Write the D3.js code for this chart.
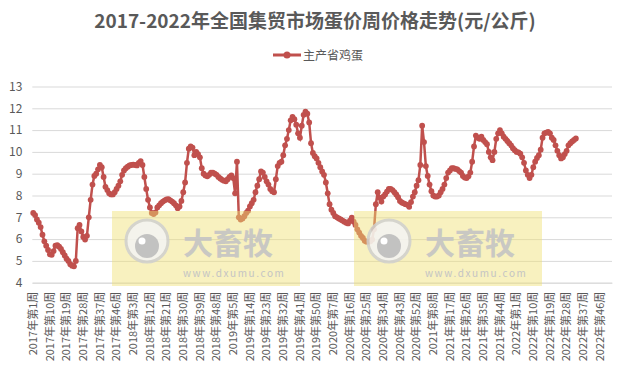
<!DOCTYPE html>
<html>
<head>
<meta charset="utf-8">
<script src="https://cdn.jsdelivr.net/npm/d3@7"></script>
<style>
body { margin: 0; background: #fff; }
text { font-family: "Noto Sans CJK SC", "Noto Sans", sans-serif; fill: #595959; }
</style>
</head>
<body>
<script>
var width = 630, height = 375;

var years = [2017, 2018, 2019, 2020, 2021, 2022];
var weeksPerYear = [52, 52, 52, 53, 52, 52];

// 主产省鸡蛋 weekly price, 元/公斤
var eggs2017 = [7.20,7.10,6.90,6.75,6.55,6.20,5.90,5.70,5.50,5.30,
                5.28,5.45,5.70,5.72,5.65,5.55,5.40,5.25,5.10,5.00,
                4.85,4.78,4.75,5.00,6.50,6.65,6.35,6.10,5.98,6.15,
                7.00,7.80,8.50,8.90,9.00,9.20,9.40,9.30,8.85,8.40,
                8.25,8.10,8.05,8.05,8.15,8.30,8.45,8.65,8.95,9.15,
                9.25,9.32];
var eggs2018 = [9.38,9.40,9.42,9.40,9.38,9.50,9.58,9.40,8.85,8.30,
                7.80,7.45,7.20,7.15,7.22,7.45,7.55,7.65,7.72,7.78,
                7.82,7.83,7.78,7.72,7.65,7.55,7.42,7.50,7.75,8.15,
                8.60,9.50,10.15,10.25,10.20,9.85,10.00,9.90,9.75,9.25,
                9.00,8.92,8.88,8.95,9.05,9.05,9.00,8.95,8.85,8.78,
                8.72,8.68];
var eggs2019 = [8.65,8.75,8.85,8.92,8.80,8.10,9.55,7.00,6.90,6.95,
                7.05,7.20,7.30,7.50,7.65,7.80,8.15,8.45,8.75,9.10,
                9.05,8.85,8.65,8.50,8.30,8.20,8.15,8.75,9.35,9.50,
                9.55,9.85,10.30,10.60,11.00,11.45,11.60,11.50,11.25,10.85,
                10.65,11.20,11.70,11.85,11.75,11.35,10.40,9.95,9.80,9.70,
                9.50,9.30];
var eggs2020 = [9.10,8.95,8.60,8.10,7.60,7.35,7.20,7.05,7.00,6.95,
                6.90,6.85,6.80,6.75,6.72,6.85,6.98,6.80,6.65,6.45,
                6.30,6.15,6.05,5.92,5.88,5.88,5.90,5.98,6.45,7.60,
                8.15,7.90,7.72,7.95,8.05,8.18,8.30,8.30,8.25,8.15,
                8.05,7.92,7.75,7.68,7.64,7.60,7.57,7.48,7.70,7.95,
                8.15,8.45,8.70];
var eggs2021 = [9.40,11.20,10.45,9.35,8.90,8.50,8.20,8.00,7.95,7.95,
                8.00,8.15,8.30,8.50,8.80,9.05,9.15,9.25,9.25,9.22,
                9.20,9.12,9.05,8.90,8.82,8.80,8.88,9.05,9.55,10.25,
                10.75,10.65,10.60,10.70,10.55,10.45,10.35,10.00,9.75,9.62,
                10.00,10.60,10.85,11.00,10.85,10.70,10.60,10.50,10.40,10.30,
                10.17,10.08];
var eggs2022 = [10.00,9.98,9.92,9.75,9.50,9.15,8.95,8.80,8.95,9.30,
                9.55,9.72,9.85,10.10,10.65,10.85,10.88,10.92,10.85,10.65,
                10.55,10.30,10.05,9.85,9.70,9.75,9.90,10.05,10.30,10.40,
                10.48,10.55,10.62];

var yTicks = [4, 5, 6, 7, 8, 9, 10, 11, 12, 13];
var seriesName = "主产省鸡蛋";
var title = "2017-2022年全国集贸市场蛋价周价格走势(元/公斤)";

var categories = [];
years.forEach(function(yr, k) {
    for (var w = 1; w <= weeksPerYear[k]; w++) categories.push(yr + "年第" + w + "周");
});
var prices = eggs2017.concat(eggs2018, eggs2019, eggs2020, eggs2021, eggs2022);
var tickLabels = categories.filter(function(d, i) { return i % 9 == 0; });

var svg = d3.select("body")
            .append("svg")
            .attr("width", width)
            .attr("height", height);

var x = d3.scaleBand()
          .domain(categories)
          .range([32.3, 612]);
var y = d3.scaleLinear()
          .domain([4, 13])
          .range([282.7, 86.5]);
var cx = function(i) { return x(categories[i]) + x.bandwidth() / 2; };

svg.append("text")
   .text(title)
   .attr("x", 315)
   .attr("y", 28)
   .attr("text-anchor", "middle")
   .style("font-size", "19px")
   .style("font-weight", "bold");

// legend
var lg = svg.append("g").attr("transform", "translate(273,55)");
lg.append("line")
  .attr("x1", 0).attr("x2", 28)
  .style("stroke", "#c0504d").style("stroke-width", 3);
lg.append("circle")
  .attr("cx", 14).attr("r", 3.5)
  .style("fill", "#c0504d");
lg.append("text")
  .text(seriesName)
  .attr("x", 30).attr("y", 4.5)
  .style("font-size", "12px");

// grid + y labels
var yAxis = svg.append("g")
               .attr("transform", "translate(32.3,0)")
               .call(d3.axisLeft(y).tickValues(yTicks).tickSize(-579.7).tickPadding(10));
yAxis.select(".domain").remove();
yAxis.selectAll("line").style("stroke", "#d9d9d9");
yAxis.selectAll("text").style("font-size", "12px").style("fill", "#595959");

var xAxis = svg.append("g")
               .attr("transform", "translate(0,282.7)")
               .call(d3.axisBottom(x).tickValues(tickLabels).tickSize(0));
xAxis.select(".domain").style("stroke", "#d9d9d9");
xAxis.selectAll("text")
     .attr("transform", "rotate(-90)")
     .attr("x", -9)
     .attr("y", 0)
     .attr("dy", "0.35em")
     .attr("text-anchor", "end")
     .style("font-size", "11px")
     .style("fill", "#595959");

var line = d3.line()
             .x(function(d, i) { return cx(i); })
             .y(function(d) { return y(d); });

svg.append("path")
   .datum(prices)
   .attr("d", line)
   .style("fill", "none")
   .style("stroke", "#c0504d")
   .style("stroke-width", 2.5);

svg.selectAll("myCircles")
   .data(prices)
   .enter()
   .append("circle")
   .attr("cx", function(d, i) { return cx(i); })
   .attr("cy", function(d) { return y(d); })
   .attr("r", 2.9)
   .style("fill", "#c0504d");

// watermark boxes
function watermark(x0) {
    var g = svg.append("g").attr("transform", "translate(" + x0 + ",211)");
    g.append("rect")
     .attr("width", 188).attr("height", 75)
     .style("fill", "#f0e070").style("opacity", 0.45);
    g.append("circle")
     .attr("cx", 35).attr("cy", 30).attr("r", 21)
     .style("fill", "#f4f4f4").style("stroke", "#cfcfcf").style("stroke-width", 3).style("opacity", 0.85);
    g.append("circle")
     .attr("cx", 35).attr("cy", 35).attr("r", 12)
     .style("fill", "#bdbdbd").style("opacity", 0.9);
    g.append("circle")
     .attr("cx", 30).attr("cy", 30).attr("r", 3.5)
     .style("fill", "#fff");
    g.append("text")
     .text("大畜牧")
     .attr("x", 71).attr("y", 43)
     .style("font-size", "30px").style("font-weight", "bold")
     .style("fill", "#c4c4c4").style("opacity", 0.9);
    g.append("text")
     .text("www.dxumu.com")
     .attr("x", 71).attr("y", 66)
     .style("font-size", "10px").style("letter-spacing", "1.6px")
     .style("fill", "#c4c4c4");
}
watermark(112);
watermark(354);
</script>
</body>
</html>
